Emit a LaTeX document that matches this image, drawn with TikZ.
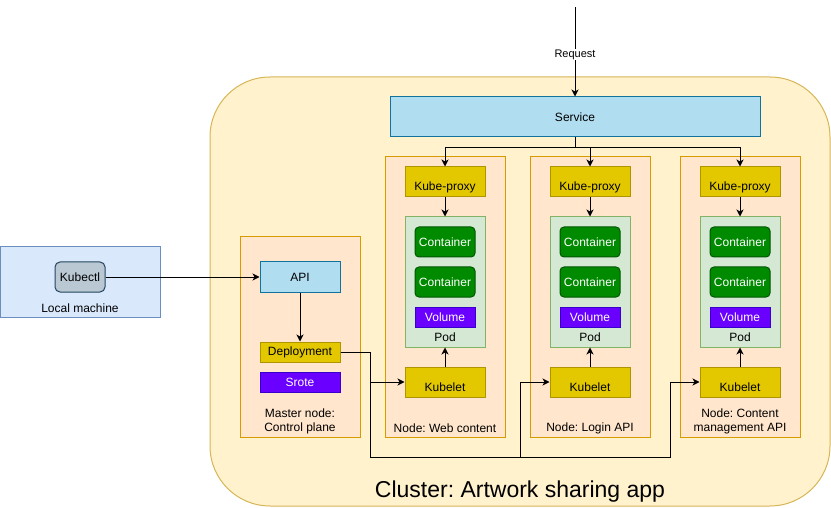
\documentclass[tikz,border=0pt]{standalone}
\usepackage{fontspec}
\setmainfont{Liberation Sans}
\usetikzlibrary{arrows.meta}
\definecolor{clfill}{HTML}{FFF2CC}\definecolor{clline}{HTML}{D6B656}
\definecolor{ndfill}{HTML}{FFE6CC}\definecolor{ndline}{HTML}{D79B00}
\definecolor{lmfill}{HTML}{DAE8FC}\definecolor{lmline}{HTML}{6C8EBF}
\definecolor{kcfill}{HTML}{BAC8D3}\definecolor{kcline}{HTML}{23445D}
\definecolor{svfill}{HTML}{B1DDF0}\definecolor{svline}{HTML}{10739E}
\definecolor{ylfill}{HTML}{E3C800}\definecolor{ylline}{HTML}{B09500}
\definecolor{pufill}{HTML}{6A00FF}\definecolor{puline}{HTML}{3700CC}
\definecolor{grfill}{HTML}{008A00}\definecolor{grline}{HTML}{005700}
\definecolor{pdfill}{HTML}{D5E8D4}\definecolor{pdline}{HTML}{82B366}
\frenchspacing
\begin{document}
\frenchspacing
\begin{tikzpicture}[x=1pt,y=-1pt,
  font=\fontsize{12}{14}\selectfont,
  sz/.style 2 args={minimum width=#1pt, minimum height=#2pt},
  base/.style={draw, line width=1pt, inner sep=0pt},
  clusterbox/.style={base, fill=clfill, draw=clline, rounded corners=60pt},
  nodebox/.style={base, fill=ndfill, draw=ndline},
  localbox/.style={base, fill=lmfill, draw=lmline},
  kubectlbox/.style={base, fill=kcfill, draw=kcline, rounded corners=5pt},
  bluebox/.style={base, fill=svfill, draw=svline},
  yellowbox/.style={base, fill=ylfill, draw=ylline},
  purplebox/.style={base, fill=pufill, draw=puline, text=white},
  greenbox/.style={base, fill=grfill, draw=grline, text=white, rounded corners=4pt},
  podbox/.style={base, fill=pdfill, draw=pdline},
  lowtext/.style={label={[yshift=-5pt]center:#1}},
  txt/.style={inner sep=0pt, align=center},
  arr/.style={line width=1pt, -{Stealth[length=7pt,width=7pt,inset=2pt]}}
]
\useasboundingbox (0,0) rectangle (831,508);

% cluster
\node[clusterbox, sz={620}{429}] (cluster) at (520,291.5) {};
\node[txt, font=\fontsize{23}{27}\selectfont] (clustertxt) at (520,492) {Cluster: Artwork sharing app};

% local machine
\node[localbox, sz={160}{70}] (local) at (80,282) {};
\node[txt] (localtxt) at (80,308) {Local machine};
\node[kubectlbox, sz={50}{30}] (kubectl) at (80,277) {Kubectl};

% master node
\node[nodebox, sz={120}{200}] (master) at (300,337) {};
\node[txt] (mastertxt) at (300,421.5) {Master node:\\Control plane};
\node[bluebox, sz={80}{30}] (api) at (300,277) {API};
\node[yellowbox, sz={80}{20}] (deploy) at (300,352) {Deployment};
\node[purplebox, sz={80}{20}] (srote) at (300,382) {Srote};

% service
\node[bluebox, sz={370}{40}] (service) at (575,117) {Service};
\coordinate (reqtop) at (575,7);

% worker nodes
\foreach \i/\x in {1/445,2/590,3/740}{
  \node[nodebox, sz={120}{280}] (nd\i) at (\x,297) {};
  \node[yellowbox, sz={80}{30}, lowtext={Kube-proxy}] (kp\i) at (\x,182) {};
  \node[podbox, sz={80}{130}] (pod\i) at (\x,282) {};
  \node[txt] (podtxt\i) at (\x,337.5) {Pod};
  \node[greenbox, sz={60}{30}] (cta\i) at (\x,242) {Container};
  \node[greenbox, sz={60}{30}] (ctb\i) at (\x,282) {Container};
  \node[purplebox, sz={60}{20}] (vol\i) at (\x,317) {Volume};
  \node[yellowbox, sz={80}{30}, lowtext={Kubelet}] (kl\i) at (\x,382) {};
}
\node[txt] (ndtxt1) at (445,428.5) {Node: Web content};
\node[txt] (ndtxt2) at (590,428.5) {Node: Login API};
\node[txt] (ndtxt3) at (740,421.5) {Node: Content\\management API};

% connectors
\draw[arr] (reqtop) -- node[pos=0.53, fill=white, inner sep=1pt, font=\fontsize{11}{13}\selectfont] (reqlbl) {Request} (service.north);
\foreach \i in {1,2,3}{
  \draw[arr] (service.south) -- ++(0,10) -| (kp\i.north);
  \draw[arr] (kp\i.south) -- (pod\i.north);
  \draw[arr] (kl\i.north) -- (pod\i.south);
}
\draw[arr] (kubectl.east) -- (api.west);
\draw[arr] (api.south) -- (deploy.north);
\coordinate (j1) at (370,457);
\coordinate (j2) at (520,457);
\coordinate (j3) at (670,457);
\draw[arr] (deploy.east) -| (j1 |- kl1.west) -- (kl1.west);
\draw[arr] (deploy.east) -| (j1) -- (j2) |- (kl2.west);
\draw[arr] (deploy.east) -| (j1) -- (j3) |- (kl3.west);
\end{tikzpicture}
\end{document}
